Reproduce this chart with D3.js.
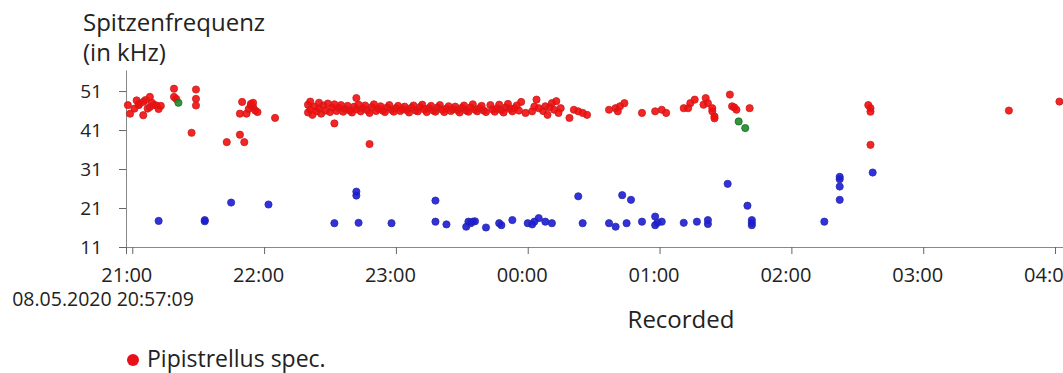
<!DOCTYPE html>
<html>
<head>
<meta charset="utf-8">
<script src="https://cdn.jsdelivr.net/npm/d3@7"></script>
<style>
  body { margin: 0; background: #fff; }
  svg { display: block; font-family: "Segoe UI", "Open Sans", sans-serif; }
</style>
</head>
<body>
<div id="chart"></div>
<script>
// time of call, peak frequency in kHz
const pipistrellus = [
  ["20:58",47.4],["20:59",45.2],["21:01",46.5],["21:02",48.6],["21:03",47.4],["21:03",47.7],["21:05",48.2],["21:05",44.8],
  ["21:06",48.7],["21:07",46.5],["21:08",49.5],["21:08",46.9],["21:09",48.0],["21:10",47.4],["21:11",47.3],["21:12",46.4],["21:13",47.2],
  ["21:19",51.6],["21:19",49.5],["21:20",49.0],["21:29",51.4],["21:29",49.0],["21:29",47.3],["21:27",40.3],
  ["21:50",48.2],["21:49",45.2],["21:52",45.2],["21:53",46.4],["21:54",47.3],["21:54",47.7],["21:55",46.9],["21:55",48.0],["21:56",46.0],["21:57",45.6],
  ["22:05",44.1],["21:43",37.9],["21:49",39.8],["21:51",37.9],
  ["22:20",47.5],["22:20",45.5],["22:21",48.3],["22:21",46.2],["22:22",44.9],["22:23",47.0],["22:24",45.8],["22:25",48.0],["22:25",46.5],
  ["22:26",45.2],["22:27",47.3],["22:28",46.0],["22:29",47.8],["22:30",45.6],["22:31",46.8],["22:32",47.6],["22:33",45.9],["22:34",46.7],
  ["22:35",47.4],["22:36",45.7],["22:37",46.4],["22:38",47.2],["22:39",46.0],["22:40",45.5],["22:41",47.0],["22:42",46.3],["22:43",47.5],
  ["22:44",45.8],["22:45",46.6],["22:46",47.3],["22:47",46.1],["22:48",45.4],["22:49",46.9],["22:50",47.6],["22:51",45.9],["22:52",46.5],
  ["22:53",47.1],["22:54",46.0],["22:55",45.6],["22:56",46.8],["22:57",47.4],["22:58",46.2],["22:59",45.7],["23:00",46.6],["23:01",47.2],
  ["23:02",45.9],["23:03",46.4],["23:04",47.0],["23:05",46.1],["23:06",45.5],["23:07",46.7],["23:08",47.3],["23:09",46.0],["23:10",45.8],
  ["23:11",46.9],["23:12",47.5],["23:13",46.3],["23:14",45.6],["23:15",46.6],["23:16",47.2],["23:17",46.0],["23:18",45.7],["23:19",46.8],
  ["23:20",47.4],["23:21",46.2],["23:22",45.6],["23:23",46.5],["23:24",47.1],["23:25",45.9],["23:26",46.4],["23:27",47.0],["23:28",46.1],
  ["23:29",45.5],["23:30",46.7],["23:31",47.3],["23:32",46.0],["23:33",45.7],["23:34",46.8],["23:35",47.6],["23:36",46.2],["23:37",45.8],
  ["23:38",46.6],["23:39",47.2],["23:40",46.0],["23:41",45.6],["23:43",47.4],["23:44",46.3],["23:45",45.7],["23:46",46.5],
  ["23:47",47.5],["23:48",46.1],["23:49",45.5],["23:50",46.8],["23:51",47.7],["23:52",46.4],["23:53",45.8],["23:54",46.6],["23:55",47.3],
  ["23:56",46.0],["23:57",48.2],
  ["22:32",42.7],["22:42",49.2],["22:48",37.4],
  ["23:59",45.4],["00:02",45.8],["00:03",47.0],["00:04",48.8],["00:05",46.6],["00:07",45.9],["00:08",47.1],["00:09",44.9],["00:10",46.8],
  ["00:11",47.9],["00:12",46.2],["00:13",48.4],["00:14",45.4],["00:15",46.6],["00:19",44.1],["00:21",46.2],["00:23",45.8],["00:25",45.4],["00:27",44.9],
  ["00:37",46.2],["00:40",46.6],["00:41",45.8],["00:42",47.1],["00:44",47.9],
  ["00:52",45.4],["00:58",45.8],["01:01",46.2],["01:03",45.4],
  ["01:11",46.6],["01:13",46.6],["01:14",47.9],["01:16",48.8],["01:20",47.5],["01:21",49.2],["01:22",47.9],["01:24",45.8],["01:24",46.6],
  ["01:25",44.5],["01:25",44.0],
  ["01:32",50.1],["01:33",47.1],["01:34",46.8],["01:35",46.2],["01:41",46.6],
  ["02:35",47.4],["02:36",46.6],["02:36",45.7],["02:36",37.2],
  ["03:39",46.0],["04:02",48.3]
];

const blueSpecies = [
  ["21:12",17.7],["21:33",17.9],["21:33",17.6],["21:45",22.4],["22:02",21.9],["22:32",17.1],["22:42",25.2],["22:42",24.2],["22:43",17.2],
  ["22:58",17.1],["23:18",22.9],["23:18",17.5],["23:23",16.8],["23:32",16.2],["23:33",17.5],["23:34",17.1],["23:35",17.5],["23:36",17.6],
  ["23:41",16.0],["23:47",17.1],["23:48",16.6],["23:53",17.9],["00:00",17.1],["00:02",16.8],["00:03",17.5],["00:05",18.4],["00:08",17.5],
  ["00:11",17.1],["00:23",24.0],["00:25",17.1],["00:37",17.1],["00:40",16.2],["00:43",24.3],["00:45",17.1],["00:47",23.1],["00:52",17.5],
  ["00:58",18.8],["00:58",16.6],["00:59",17.2],["01:01",17.5],["01:11",17.2],["01:17",17.5],["01:22",17.9],["01:22",16.9],["01:31",27.2],
  ["01:40",21.6],["01:42",17.9],["01:42",16.6],["01:42",17.2],["02:15",17.5],["02:22",29.0],["02:22",28.4],["02:22",26.5],["02:22",23.1],
  ["02:37",30.1]
];

const greenSpecies = [["21:21",48.0],["01:36",43.2],["01:39",41.5]];

const yTicks = [11, 21, 31, 41, 51];
const xTickTimes = ["21:00","22:00","23:00","00:00","01:00","02:00","03:00","04:00"];
const startLabel = "08.05.2020 20:57:09";
const legendLabel = "Pipistrellus spec.";

// times before noon belong to the next day
const toDate = (s) => {
  const p = s.split(':').map(Number);
  const day = p[0] < 12 ? 9 : 8;
  return new Date(2020, 4, day, p[0], p[1], p[2] || 0);
};

const width = 1063;
const height = 373;

const x = d3.scaleTime()
  .domain([new Date(2020, 4, 8, 20, 57, 9), new Date(2020, 4, 9, 4, 10)])
  .range([126, 1077]);

const y = d3.scaleLinear()
  .domain([11, 56.4])
  .range([247, 70]);

const svg = d3.select('#chart').append('svg')
  .attr('width', width)
  .attr('height', height);

// title
const title = svg.append('text')
  .attr('x', 83)
  .attr('font-size', '24px')
  .attr('fill', '#222');
title.append('tspan').attr('x', 83).attr('y', 31).text('Spitzenfrequenz');
title.append('tspan').attr('x', 83).attr('y', 61).text('(in kHz)');

// y axis
const yAxis = svg.append('g')
  .attr('transform', `translate(${x.range()[0]},0)`)
  .call(d3.axisLeft(y).tickValues(yTicks).tickSize(7).tickSizeOuter(0).tickPadding(17));
yAxis.select('.domain').attr('stroke', '#888');
yAxis.selectAll('.tick line').attr('stroke', '#666');
yAxis.selectAll('.tick text')
  .attr('font-size', '19px')
  .attr('font-family', '"Segoe UI", "Open Sans", sans-serif')
  .attr('fill', '#222');

// x axis
const xAxis = svg.append('g')
  .attr('transform', `translate(0,${y(11)})`)
  .call(d3.axisBottom(x)
    .tickValues([x.domain()[0]].concat(xTickTimes.map(toDate)))
    .tickFormat((d, i) => (i === 0 ? '' : d3.timeFormat('%H:%M')(d)))
    .tickSize(7).tickSizeOuter(0).tickPadding(14));
xAxis.select('.domain').attr('stroke', '#888');
xAxis.selectAll('.tick line').attr('stroke', '#666');
xAxis.selectAll('.tick text')
  .attr('dx', -6)
  .attr('font-size', '20px')
  .attr('font-family', '"Segoe UI", "Open Sans", sans-serif')
  .attr('fill', '#222');

svg.append('text')
  .attr('x', x(x.domain()[0]) - 23)
  .attr('y', 306)
  .attr('text-anchor', 'middle')
  .attr('font-size', '19.5px')
  .attr('fill', '#222')
  .text(startLabel);

svg.append('text')
  .attr('x', 681)
  .attr('y', 328)
  .attr('text-anchor', 'middle')
  .attr('font-size', '24px')
  .attr('fill', '#222')
  .text('Recorded');

// points
const drawPoints = (data, fill, stroke) => {
  svg.append('g').selectAll('circle')
    .data(data)
    .enter().append('circle')
    .attr('cx', (d) => x(toDate(d[0])))
    .attr('cy', (d) => y(d[1]))
    .attr('r', 3.6)
    .attr('fill', fill)
    .attr('fill-opacity', 0.9)
    .attr('stroke', stroke)
    .attr('stroke-width', 0.8);
};
drawPoints(pipistrellus, '#f20d0d', '#c81e1e');
drawPoints(blueSpecies, '#1c1cd6', '#2a2aa8');
drawPoints(greenSpecies, '#1d8a2a', '#176a20');

// legend
svg.append('circle')
  .attr('cx', 133)
  .attr('cy', 360)
  .attr('r', 6)
  .attr('fill', '#e8101a');
svg.append('text')
  .attr('x', 147)
  .attr('y', 367)
  .attr('font-size', '23px')
  .attr('fill', '#222')
  .text(legendLabel);
</script>
</body>
</html>
